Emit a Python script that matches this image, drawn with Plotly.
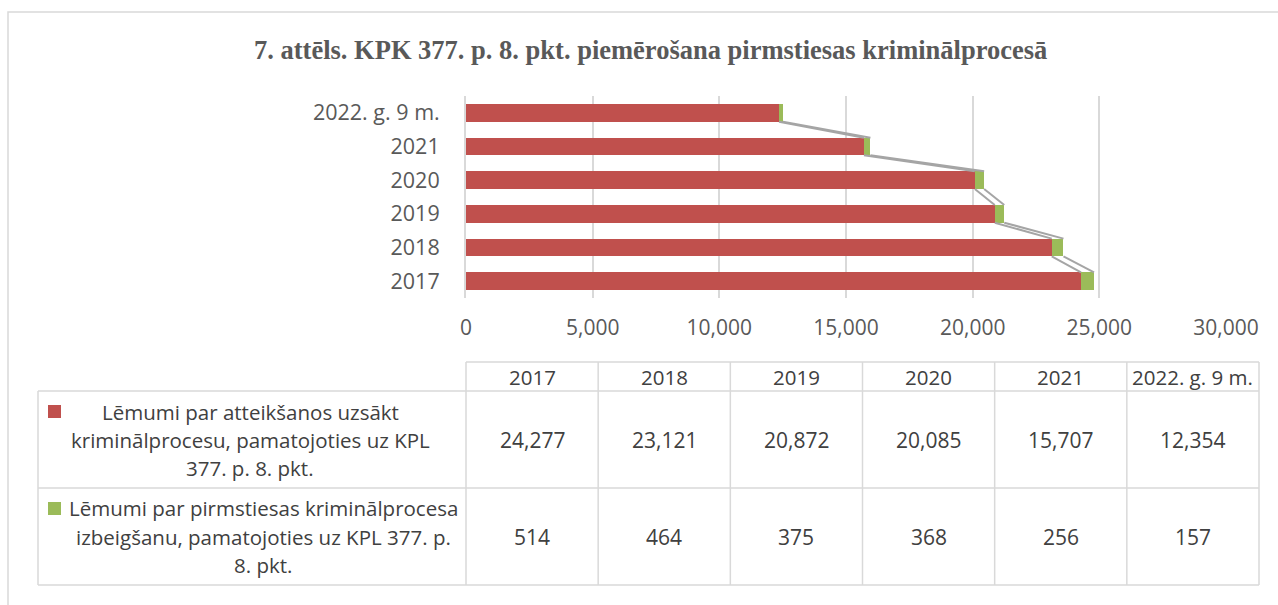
import plotly.graph_objects as go

# ---------------- data ----------------
categories = ["2017", "2018", "2019", "2020", "2021", "2022. g. 9 m."]
refusals = [24277, 23121, 20872, 20085, 15707, 12354]
terminations = [514, 464, 375, 368, 256, 157]
series_names = [
    "Lēmumi par atteikšanos uzsākt kriminālprocesu, pamatojoties uz KPL 377. p. 8. pkt.",
    "Lēmumi par pirmstiesas kriminālprocesa izbeigšanu, pamatojoties uz KPL 377. p. 8. pkt.",
]
series_label_lines = [
    ["Lēmumi par atteikšanos uzsākt", "kriminālprocesu, pamatojoties uz KPL", "377. p. 8. pkt."],
    ["Lēmumi par pirmstiesas kriminālprocesa", "izbeigšanu, pamatojoties uz KPL 377. p.", "8. pkt."],
]
x_ticks = [0, 5000, 10000, 15000, 20000, 25000, 30000]
title_text = "7. attēls. KPK 377. p. 8. pkt. piemērošana pirmstiesas kriminālprocesā"

RED = "#C0504D"
GREEN = "#9BBB59"
GRID = "#D9D9D9"
TXT = "#595959"
TXT2 = "#404040"

W, H = 1278, 605
ML, MR, MT, MB = 466, 52, 96, 307
PW = W - ML - MR
PH = H - MT - MB


def px(xp):
    return (xp - ML) / PW


def py(yp):
    return (H - MB - yp) / PH


bar_w = 0.526
idx = list(range(len(categories)))

fig = go.Figure()
fig.add_trace(go.Bar(y=idx, x=refusals, orientation="h", width=bar_w,
                     marker=dict(color=RED, line=dict(width=0)), name=series_names[0]))
fig.add_trace(go.Bar(y=idx, x=terminations, orientation="h", width=bar_w,
                     marker=dict(color=GREEN, line=dict(width=0)), name=series_names[1]))

# series lines (Excel style) connecting segment ends of adjacent bars
totals = [a + b for a, b in zip(refusals, terminations)]
sx, sy = [], []
for vals in (refusals, totals):
    for i in range(len(idx) - 1):
        sx += [vals[i + 1], vals[i], None]
        sy += [idx[i + 1] - bar_w / 2, idx[i] + bar_w / 2, None]
fig.add_trace(go.Scatter(x=sx, y=sy, mode="lines", line=dict(color="#A5A5A5", width=2),
                         hoverinfo="skip", showlegend=False))

fig.update_layout(
    width=W, height=H, barmode="stack", showlegend=False,
    paper_bgcolor="white", plot_bgcolor="white",
    margin=dict(l=ML, r=MR, t=MT, b=MB),
    font=dict(family="Open Sans", color=TXT),
)
fig.update_xaxes(range=[0, 30000], tickvals=x_ticks, tickformat=",d",
                 showgrid=True, gridcolor=GRID, gridwidth=2, zeroline=False,
                 showline=False, tickfont=dict(size=21, color=TXT),
                 ticklabelstandoff=15, fixedrange=True)
fig.update_yaxes(range=[-0.5, len(categories) - 0.5], tickvals=idx, ticktext=categories,
                 showgrid=False, zeroline=False, showline=True, linecolor=GRID, linewidth=2,
                 tickfont=dict(size=21.5, color=TXT), ticklabelstandoff=20, fixedrange=True)

shapes = []
annotations = []

# outer chart border
shapes.append(dict(type="rect", xref="paper", yref="paper",
                   x0=px(8), y0=py(12), x1=px(1300), y1=py(640),
                   line=dict(color=GRID, width=1.5), fillcolor="rgba(0,0,0,0)", layer="below"))

# title
annotations.append(dict(text="<b>" + title_text + "</b>", xref="paper", yref="paper",
                        x=px(650), y=py(50), showarrow=False, xanchor="center", yanchor="middle",
                        font=dict(family="Liberation Serif", size=26.5, color=TXT)))

# data table
tbl_left, col0, tbl_right = 38, 466, 1259
ncol = len(categories)
col_w = (tbl_right - col0) / ncol
y_head_top, y_head_bot = 362, 391
row_bottoms = [488, 585]
line_style = dict(color=GRID, width=1.5)


def hline(x0, x1, y):
    shapes.append(dict(type="line", xref="paper", yref="paper", x0=px(x0), x1=px(x1),
                       y0=py(y), y1=py(y), line=line_style))


def vline(x, y0, y1):
    shapes.append(dict(type="line", xref="paper", yref="paper", x0=px(x), x1=px(x),
                       y0=py(y0), y1=py(y1), line=line_style))


hline(col0, tbl_right, y_head_top)
hline(tbl_left, tbl_right, y_head_bot)
for yb in row_bottoms:
    hline(tbl_left, tbl_right, yb)
for j in range(ncol + 1):
    vline(col0 + j * col_w, y_head_top, row_bottoms[-1])
vline(tbl_left, y_head_bot, row_bottoms[-1])

# header labels
for j, c in enumerate(categories):
    annotations.append(dict(text=c, xref="paper", yref="paper", x=px(col0 + (j + 0.5) * col_w),
                            y=py((y_head_top + y_head_bot) / 2), showarrow=False,
                            xanchor="center", yanchor="middle",
                            font=dict(size=20.5, color=TXT2)))

rows = [refusals, terminations]
colors = [RED, GREEN]
row_tops = [y_head_bot] + row_bottoms[:-1]
label_centers = [250, 263]
for r, vals in enumerate(rows):
    top, bot = row_tops[r], row_bottoms[r]
    mid = (top + bot) / 2
    for j, v in enumerate(vals):
        annotations.append(dict(text=f"{v:,}", xref="paper", yref="paper",
                                x=px(col0 + (j + 0.5) * col_w), y=py(mid), showarrow=False,
                                xanchor="center", yanchor="middle",
                                font=dict(size=21, color=TXT2)))
    lines = series_label_lines[r]
    for k, ln in enumerate(lines):
        yy = mid + (k - 1) * 28
        annotations.append(dict(text=ln, xref="paper", yref="paper", x=px(label_centers[r]),
                                y=py(yy), showarrow=False, xanchor="center", yanchor="middle",
                                font=dict(size=20.5, color=TXT2)))
    # legend key
    ky = mid - 28
    shapes.append(dict(type="rect", xref="paper", yref="paper", x0=px(48), x1=px(61),
                       y0=py(ky - 6.5), y1=py(ky + 6.5), fillcolor=colors[r],
                       line=dict(width=0)))

fig.update_layout(shapes=shapes, annotations=annotations)
fig.write_html("out.html", config={"displayModeBar": False},
               post_script="document.body.style.margin='0px';document.body.style.overflow='hidden';")
